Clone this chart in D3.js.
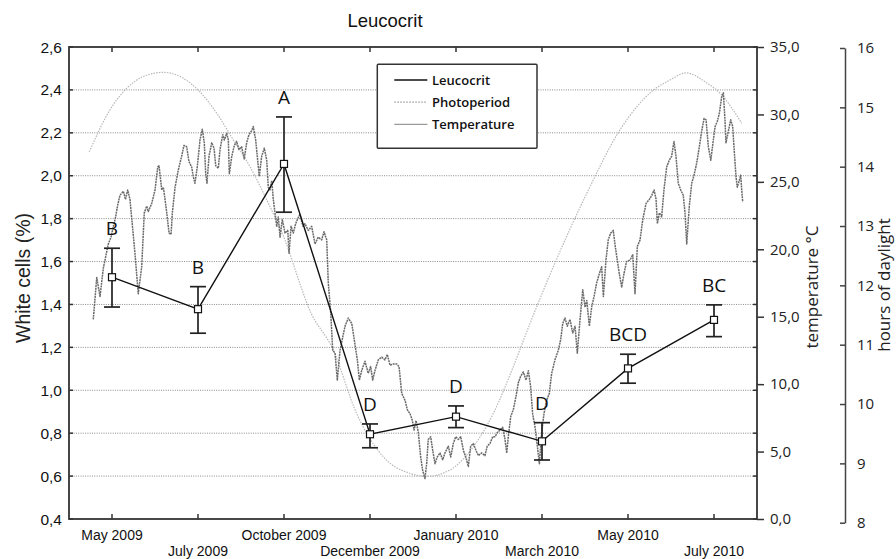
<!DOCTYPE html>
<html><head><meta charset="utf-8">
<script src="https://cdn.jsdelivr.net/npm/d3@7"></script>
<style>body{margin:0;background:#fff} svg{display:block}</style>
</head><body>
<svg id="c" width="896" height="559"></svg>
<script>
// ---------- DATA ----------
const categories = ["May 2009","July 2009","October 2009","December 2009","January 2010","March 2010","May 2010","July 2010"];
const leucoMean = [1.527,1.378,2.055,0.795,0.877,0.762,1.102,1.328];
const leucoLow  = [1.388,1.266,1.830,0.732,0.826,0.675,1.033,1.250];
const leucoHigh = [1.662,1.483,2.274,0.843,0.927,0.849,1.168,1.398];
const groupLetters = ["B","B","A","D","D","D","BCD","BC"];

const leftTicks  = [0.4,0.6,0.8,1.0,1.2,1.4,1.6,1.8,2.0,2.2,2.4,2.6];
const tempTicks  = [0,5,10,15,20,25,30,35];
const photoTicks = [8,9,10,11,12,13,14,15,16];

// daily series: day offset from start of photoperiod record
const tempDay = [3.0,5.4,7.7,10.0,13.5,15.4,17.0,18.6,19.9,21.6,24.0,25.5,27.0,28.6,32.1,34.4,36.8,38.6,40.3,41.4,43.8,46.1,48.0,48.9,50.8,51.9,53.1,54.3,55.9,57.3,58.2,60.1,62.4,64.7,66.3,68.2,69.8,71.7,72.8,74.0,75.6,77.5,79.1,80.5,81.5,82.4,83.8,85.7,87.3,88.5,90.3,91.5,93.4,94.5,96.2,97.3,98.0,99.7,101.5,103.1,104.7,106.6,108.4,110.1,111.7,113.6,114.7,116.4,117.8,118.9,120.6,122.4,124.1,125.2,126.4,127.6,128.7,131.1,132.2,133.4,135.0,136.9,138.8,139.7,141.1,142.7,144.3,145.9,147.3,149.4,150.8,153.1,155.5,157.8,160.1,162.5,164.1,166.0,167.1,168.8,170.2,171.8,173.4,175.3,177.4,178.8,181.1,183.5,185.8,187.4,188.8,190.4,192.7,195.0,196.7,198.1,199.7,202.0,204.4,206.7,208.3,210.2,212.5,214.9,216.5,218.4,220.7,222.3,224.2,225.8,227.0,228.4,230.0,231.6,233.0,234.6,235.8,236.9,238.6,240.0,241.6,243.2,245.1,247.0,248.6,250.9,252.6,254.4,256.1,257.9,259.6,261.4,263.1,264.9,266.5,268.4,270.2,271.9,274.2,276.5,278.1,280.0,281.9,283.5,285.1,287.0,288.9,290.5,291.7,292.8,294.5,296.3,298.2,299.8,301.5,303.3,305.2,306.8,308.4,309.8,311.5,313.1,314.5,316.1,317.7,319.6,321.4,323.1,325.4,327.7,329.4,330.8,332.4,334.0,335.9,337.8,339.4,341.0,342.9,344.8,346.4,347.6,349.4,351.0,352.7,354.5,356.4,358.0,359.2,361.0,362.6,364.3,366.1,367.5,368.9,370.3,372.0,373.6,375.4,377.8,379.7,381.3,382.9,384.8,386.7,389.0,391.3,393.0,394.6,396.0,396.9,398.3,399.9,401.5,403.4,405.2,406.9,408.5,409.9,411.5,413.2,415.0,416.2,417.4,419.2,420.9,422.5,424.4,426.2,427.9,429.5,430.9,432.5,434.2,435.5,437.2,438.8,440.2,441.8,443.0,444.1,444.8,446.4,448.1,449.5,450.4,451.8,452.7,454.1,455.1,455.8,456.5];
const tempC = [14.8,17.9,16.5,18.6,20.4,20.9,21.7,22.4,23.2,24.0,24.3,23.7,24.4,23.7,19.7,16.7,18.7,22.7,23.2,22.8,23.4,24.4,26.1,26.2,24.4,24.6,23.7,22.7,21.2,21.1,22.7,24.6,25.9,26.9,27.7,27.6,26.5,26.1,25.4,24.9,26.1,28.1,28.9,27.9,25.6,24.9,26.9,27.9,27.5,26.2,26.0,27.4,28.5,28.1,28.6,28.1,25.6,26.9,27.7,28.0,27.4,27.6,26.7,27.9,28.5,28.8,29.1,28.1,26.6,25.4,26.9,27.5,26.6,24.6,24.4,25.1,23.7,21.7,22.4,20.9,22.2,21.2,21.4,19.7,21.7,21.2,21.9,22.3,22.6,21.7,21.9,21.4,21.7,20.4,20.9,20.7,21.3,20.7,17.5,15.3,12.5,12.3,10.3,12.5,13.6,14.3,14.9,14.5,12.9,11.8,10.3,11.0,11.7,10.8,11.3,10.3,11.0,11.8,12.0,11.8,12.2,11.4,11.5,11.5,11.3,9.3,8.8,8.1,7.8,7.3,6.6,7.3,6.4,4.6,3.6,3.0,4.1,5.9,6.1,5.1,4.1,4.6,4.9,4.4,4.9,5.4,4.6,5.6,6.1,5.9,6.1,5.1,4.6,3.9,5.4,5.6,5.1,4.7,4.9,4.7,5.4,5.6,6.1,6.1,6.4,6.6,6.8,5.9,4.9,6.1,7.6,8.1,9.1,10.1,10.6,10.9,10.3,11.0,9.8,7.8,6.8,5.4,4.1,6.4,7.8,8.8,9.3,10.8,11.8,12.5,13.3,14.5,14.9,14.3,14.8,13.8,14.3,12.3,14.8,17.0,15.7,16.2,14.3,15.7,16.5,17.5,18.2,18.7,16.5,19.2,20.7,21.2,21.4,20.2,19.2,18.2,17.2,18.2,19.1,19.2,19.6,16.7,20.2,20.7,22.2,23.4,23.7,24.0,24.4,23.7,21.9,22.7,22.4,24.4,26.1,26.6,26.9,28.0,26.9,24.9,24.4,24.0,22.7,20.4,23.2,24.9,25.5,26.4,27.6,28.8,29.7,29.6,27.6,26.6,27.7,29.1,29.5,30.1,31.3,31.6,29.6,27.9,28.7,29.6,29.1,27.6,25.4,24.6,25.1,25.5,24.4,23.5];

const photoDay   = [0.2,14.7,26.3,37.9,51.9,65.9,77.5,89.2,100.8,112.4,124.1,136.9,147.3,153.1,170.6,186.9,205.5,224.2,235.8,252.1,268.4,282.3,296.3,308.0,324.2,347.6,370.8,394.1,405.7,416.9,431.4,440.6,455.8];
const photoHours = [14.25,14.96,15.32,15.52,15.59,15.49,15.26,14.90,14.45,14.00,13.44,12.76,12.03,11.64,10.91,9.84,9.11,8.83,8.78,8.89,9.28,9.84,10.63,11.36,12.31,13.55,14.62,15.29,15.46,15.58,15.41,15.24,14.73];

// ---------- SETUP ----------
const svg = d3.select("#c");
const L = 69, R = 757, T = 47, B = 519;
const loc = d3.formatLocale({decimal: ",", thousands: ".", grouping: [3], currency: ["", ""]});
const f1 = loc.format(".1f");

const x = d3.scalePoint().domain(categories).range([L, R]).padding(0.5);
const yL = d3.scaleLinear().domain([0.4, 2.6]).range([B, T]);
const yT = d3.scaleLinear().domain([0, 35]).range([B, T]);
const yP = d3.scaleLinear().domain([8, 16]).range([522.7, 48]);
const xDay = d3.scaleLinear().domain([0, 456]).range([89, 742]);

const sans = "'Liberation Sans', Arial, sans-serif";
const open = "'Open Sans', sans-serif";

// gridlines
svg.append("g").selectAll("line").data(leftTicks.slice(1, -1)).join("line")
  .attr("x1", L).attr("x2", R).attr("y1", d => yL(d)).attr("y2", d => yL(d))
  .attr("stroke", "#8a8a8a").attr("stroke-width", 1).attr("stroke-dasharray", "1,1.3");

// photoperiod
svg.append("path").datum(photoDay.map((d, i) => [d, photoHours[i]]))
  .attr("fill", "none").attr("stroke", "#b8b8b8").attr("stroke-width", 1.2)
  .attr("stroke-dasharray", "1.5,1.2")
  .attr("d", d3.line().x(d => xDay(d[0])).y(d => yP(d[1])).curve(d3.curveMonotoneX));

// temperature
svg.append("path").datum(tempDay.map((d, i) => [d, tempC[i]]))
  .attr("fill", "none").attr("stroke", "#6a6a6a").attr("stroke-width", 1.5)
  .attr("stroke-dasharray", "2,0.7").attr("stroke-linejoin", "round")
  .attr("d", d3.line().x(d => xDay(d[0])).y(d => yT(d[1])));

// frame
svg.append("rect").attr("x", L).attr("y", T).attr("width", R - L).attr("height", B - T)
  .attr("fill", "none").attr("stroke", "#333").attr("stroke-width", 1.8);

// category ticks top & bottom (inward)
const tk = svg.append("g").attr("stroke", "#333").attr("stroke-width", 1.5);
categories.forEach(c => {
  tk.append("line").attr("x1", x(c)).attr("x2", x(c)).attr("y1", T).attr("y2", T + 5);
  tk.append("line").attr("x1", x(c)).attr("x2", x(c)).attr("y1", B).attr("y2", B - 5);
});
// left axis inward ticks mirrored right
leftTicks.forEach(v => {
  tk.append("line").attr("x1", L).attr("x2", L + 4).attr("y1", yL(v)).attr("y2", yL(v));
  tk.append("line").attr("x1", R - 4).attr("x2", R).attr("y1", yL(v)).attr("y2", yL(v));
});

// left axis labels
svg.append("g").selectAll("text").data(leftTicks).join("text")
  .attr("x", 62).attr("y", d => yL(d)).attr("dy", "0.36em")
  .attr("text-anchor", "end").attr("font-family", sans).attr("font-size", 15.5)
  .attr("fill", "#111").text(d => f1(d));

// bottom labels (alternating rows)
svg.append("g").selectAll("text").data(categories).join("text")
  .attr("x", d => x(d)).attr("y", (d, i) => i % 2 === 0 ? 540 : 555.5)
  .attr("text-anchor", "middle").attr("font-family", sans).attr("font-size", 14)
  .attr("fill", "#111").text(d => d);

// temperature axis (right)
const tAxis = d3.axisRight(yT).tickValues(tempTicks).tickSize(7).tickPadding(6).tickFormat(f1);
const gt = svg.append("g").attr("transform", `translate(${R},0)`).call(tAxis);
gt.select(".domain").remove();
gt.selectAll(".tick line").attr("stroke", "#333").attr("stroke-width", 1.5);
gt.selectAll("text").attr("font-family", open).attr("font-size", 15).attr("fill", "#222");

// photoperiod axis
const pAxis = d3.axisRight(yP).tickValues(photoTicks).tickSizeInner(-5).tickSizeOuter(0).tickPadding(12).tickFormat(d3.format("d"));
const gp = svg.append("g").attr("transform", "translate(845,0)").call(pAxis);
gp.select(".domain").attr("stroke", "#444").attr("stroke-width", 1.5);
gp.selectAll(".tick line").attr("stroke", "#444").attr("stroke-width", 1.5);
gp.selectAll("text").attr("font-family", open).attr("font-size", 15).attr("fill", "#222");

// axis titles
svg.append("text").attr("transform", "translate(30,278) rotate(-90)")
  .attr("text-anchor", "middle").attr("font-family", sans).attr("font-size", 19.5)
  .attr("fill", "#222").text("White cells (%)");
svg.append("text").attr("transform", "translate(818,287) rotate(-90)")
  .attr("text-anchor", "middle").attr("font-family", open).attr("font-size", 17)
  .attr("fill", "#222").text("temperature °C");
svg.append("text").attr("transform", "translate(890,285) rotate(-90)")
  .attr("text-anchor", "middle").attr("font-family", open).attr("font-size", 17)
  .attr("fill", "#222").text("hours of daylight");

// title
svg.append("text").attr("x", 385).attr("y", 27).attr("text-anchor", "middle")
  .attr("font-family", sans).attr("font-size", 18.5).attr("fill", "#111").text("Leucocrit");

// leucocrit line
const pts = categories.map((c, i) => ({c, m: leucoMean[i], lo: leucoLow[i], hi: leucoHigh[i], g: groupLetters[i]}));
svg.append("path").datum(pts).attr("fill", "none").attr("stroke", "#111").attr("stroke-width", 1.4)
  .attr("d", d3.line().x(d => x(d.c)).y(d => yL(d.m)));

// error bars
const eb = svg.append("g").attr("stroke", "#222").attr("stroke-width", 1.7);
pts.forEach(d => {
  const cx = x(d.c);
  eb.append("line").attr("x1", cx).attr("x2", cx).attr("y1", yL(d.lo)).attr("y2", yL(d.hi));
  eb.append("line").attr("x1", cx - 8).attr("x2", cx + 8).attr("y1", yL(d.lo)).attr("y2", yL(d.lo));
  eb.append("line").attr("x1", cx - 8).attr("x2", cx + 8).attr("y1", yL(d.hi)).attr("y2", yL(d.hi));
});

// markers
svg.append("g").selectAll("rect").data(pts).join("rect")
  .attr("x", d => x(d.c) - 3.5).attr("y", d => yL(d.m) - 3.5).attr("width", 7).attr("height", 7)
  .attr("fill", "#fff").attr("stroke", "#111").attr("stroke-width", 1.2);

// group letters
svg.append("g").selectAll("text").data(pts).join("text")
  .attr("x", d => x(d.c)).attr("y", d => yL(d.hi) - 13).attr("text-anchor", "middle")
  .attr("font-family", open).attr("font-size", 19).attr("fill", "#111").text(d => d.g);

// legend
const lg = svg.append("g");
lg.append("rect").attr("x", 377.3).attr("y", 64.3).attr("width", 159.7).attr("height", 84)
  .attr("fill", "#fff").attr("stroke", "#333").attr("stroke-width", 1.5).attr("rx", 1);
const legendItems = [
  {name: "Leucocrit", stroke: "#111", w: 1.6, dash: null},
  {name: "Photoperiod", stroke: "#999", w: 1.3, dash: "1.5,1.5"},
  {name: "Temperature", stroke: "#9a9a9a", w: 1.3, dash: null}
];
legendItems.forEach((it, i) => {
  const ly = 80 + i * 22.2;
  lg.append("line").attr("x1", 394.3).attr("x2", 427.3).attr("y1", ly).attr("y2", ly)
    .attr("stroke", it.stroke).attr("stroke-width", it.w).attr("stroke-dasharray", it.dash);
  lg.append("text").attr("x", 432).attr("y", ly).attr("dy", "0.35em")
    .attr("font-family", open).attr("font-weight", 600).attr("font-size", 13)
    .attr("fill", "#111").text(it.name);
});
</script>
</body></html>
